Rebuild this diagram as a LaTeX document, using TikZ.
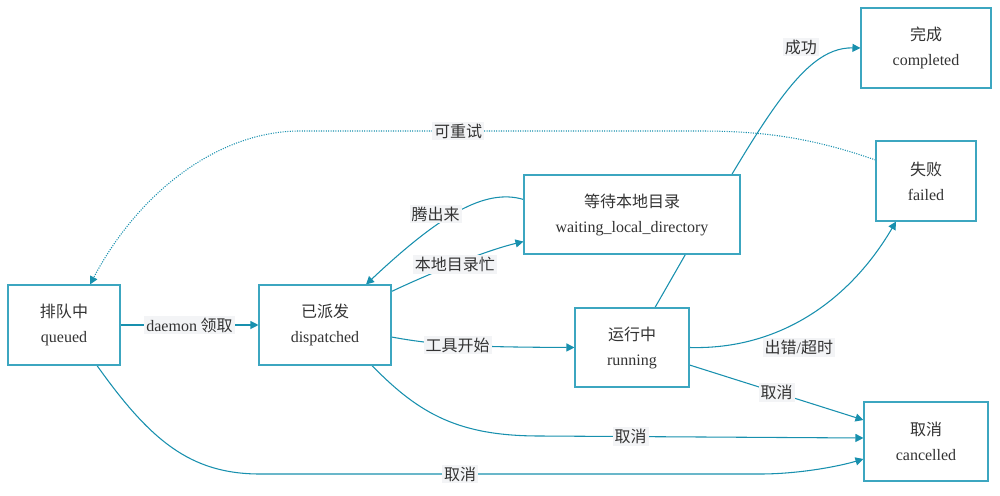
\documentclass[tikz,border=0pt]{standalone}
\usepackage{fontspec}
\setmainfont{Liberation Serif}
\newfontfamily\cjk{Noto Sans CJK SC}
\usetikzlibrary{arrows.meta,calc,backgrounds}
\definecolor{edgeteal}{RGB}{24,144,174}
\definecolor{boxteal}{RGB}{60,166,192}
\definecolor{lblgray}{RGB}{243,244,246}
\definecolor{txtgray}{RGB}{51,51,51}

\begin{document}
\begin{tikzpicture}[x=0.75pt,y=0.75pt,yscale=-1,xscale=1,
  state/.style={draw=boxteal,line width=0.8pt,fill=white,text=txtgray,align=center,inner sep=0pt,font=\fontsize{12}{18.75}\selectfont},
  edge/.style={draw=edgeteal,line width=0.8pt,-{Triangle[length=6pt,width=6pt]}},
  retry/.style={edge,densely dotted},
  lbl/.style={fill=lblgray,text=txtgray,inner sep=1.5pt,font=\cjk\fontsize{12}{14}\selectfont}]
%set diagram left start at 0, and has height of 496
\useasboundingbox (0,0) rectangle (1000,496);

%Shape: Rectangle
\node [state,minimum width=84pt,minimum height=60pt] (queued) at (64,325) {{\cjk 排队中}\\queued};
%Shape: Rectangle
\node [state,minimum width=99pt,minimum height=60pt] (dispatched) at (325,325) {{\cjk 已派发}\\dispatched};
%Shape: Rectangle
\node [state,minimum width=162pt,minimum height=59.25pt] (waiting) at (632,214.5) {{\cjk 等待本地目录}\\waiting\_local\_directory};
%Shape: Rectangle
\node [state,minimum width=85.5pt,minimum height=59.25pt] (running) at (632,347.5) {{\cjk 运行中}\\running};
%Shape: Rectangle
\node [state,minimum width=97.5pt,minimum height=60pt] (completed) at (926,48) {{\cjk 完成}\\completed};
%Shape: Rectangle
\node [state,minimum width=75pt,minimum height=60pt] (failed) at (926,181) {{\cjk 失败}\\failed};
%Shape: Rectangle
\node [state,minimum width=93pt,minimum height=59.25pt] (cancelled) at (926,441.5) {{\cjk 取消}\\cancelled};

\begin{scope}[on background layer]
%Straight Lines
\draw [edge] (queued) -- node [lbl] {{\rmfamily daemon} 领取} (dispatched);
%Curve Lines
\draw [edge] ($(dispatched.north east)+(0,7)$) .. controls (420,278) and (480,252) .. node [lbl,pos=0.52] {本地目录忙} ($(waiting.south west)+(0,-13)$);
%Curve Lines
\draw [edge] ($(waiting.north west)+(0,25)$) .. controls (485,188) and (440,215) .. node [lbl,pos=0.58,xshift=-7.5pt,yshift=3.75pt] {腾出来} ($(dispatched.north)+(41,0)$);
%Curve Lines
\draw [edge] ($(dispatched.east)+(0,12)$) .. controls (440,346) and (480,347) .. node [lbl,pos=0.45] {工具开始} (running.west);
%Curve Lines
\draw [edge] ($(running.north)+(23,0)$) .. controls (760,125) and (800,47) .. node [lbl,pos=0.65,yshift=22.5pt] {成功} (completed.west);
%Curve Lines
\draw [edge] (running.east) .. controls (780,350) and (850,300) .. node [lbl,pos=0.45,yshift=-19.5pt] {出错{\rmfamily /}超时} ($(failed.south)+(-30,0)$);
%Straight Lines
\draw [edge] ($(running.east)+(0,17.5)$) -- node [lbl] {取消} ($(cancelled.west)+(0,-21.5)$);
%Curve Lines
\draw [edge] ($(dispatched.south)+(47,0)$) .. controls (420,415) and (460,436) .. (540,436) -- node [lbl,pos=0.28] {取消} ($(cancelled.west)+(0,-3.5)$);
%Curve Lines
\draw [edge] ($(queued.south)+(33,0)$) .. controls (150,440) and (190,474) .. (260,474) -- node [lbl,pos=0.4] {取消} (760,474) .. controls (800,474) and (840,466) .. ($(cancelled.west)+(0,17.5)$);
%Curve Lines
\draw [retry] ($(failed.west)+(0,-21)$) .. controls (810,137) and (760,131) .. (700,131) -- node [lbl,pos=0.605] {可重试} (300,131) .. controls (220,131) and (140,190) .. ($(queued.north)+(26,0)$);
\end{scope}

\end{tikzpicture}
\end{document}
